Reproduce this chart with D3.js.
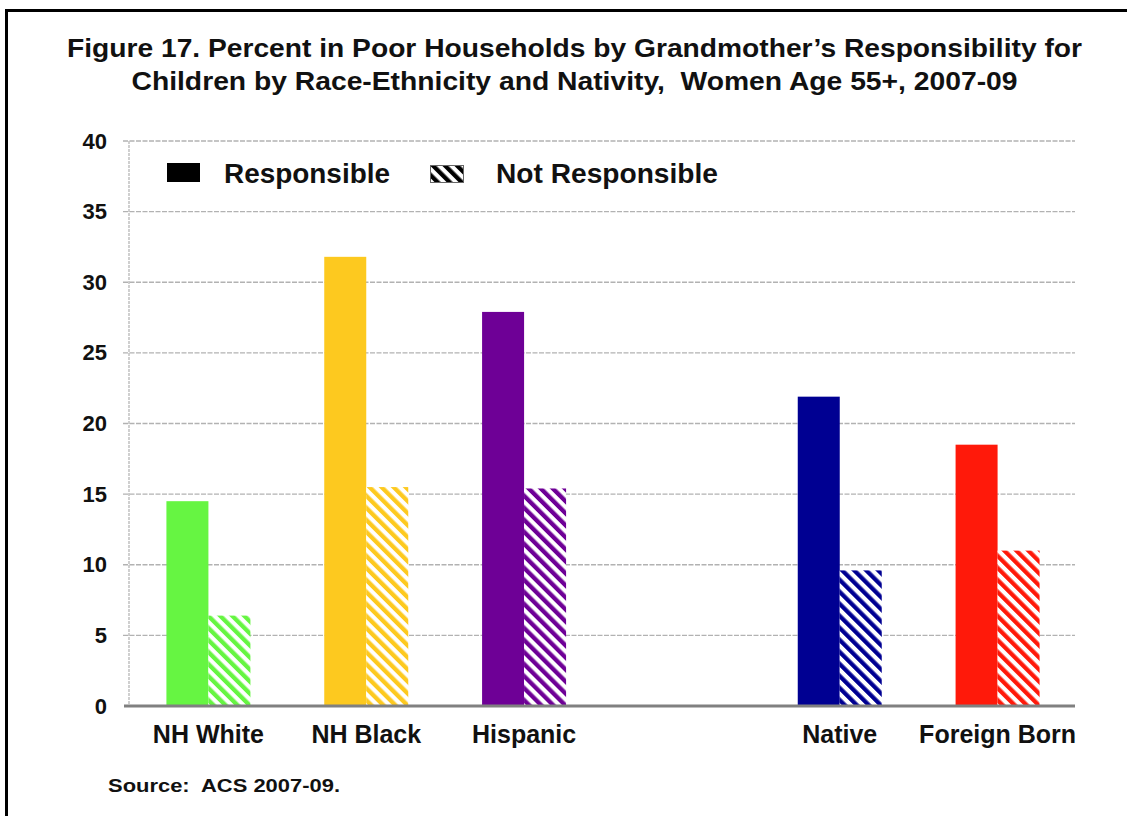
<!DOCTYPE html>
<html>
<head>
<meta charset="utf-8">
<script src="https://cdn.jsdelivr.net/npm/d3@7"></script>
<style>
  html, body { margin: 0; padding: 0; background: #fff; }
  svg { display: block; }
  text { font-family: "Liberation Sans", Arial, sans-serif; font-weight: bold; fill: #111; }
</style>
</head>
<body>
<svg id="chart" width="1127" height="816"></svg>
<script>
// Percent in poor households, women age 55+, 2007-09
const categories = ["NH White", "NH Black", "Hispanic", "Native", "Foreign Born"];
const responsible = [14.5, 31.8, 27.9, 21.9, 18.5];
const notResponsible = [6.4, 15.5, 15.4, 9.6, 11.0];
const barColors = ["#66f542", "#fdc91f", "#6e0096", "#000092", "#ff190a"];
const seriesNames = ["Responsible", "Not Responsible"];
const yTicks = [0, 5, 10, 15, 20, 25, 30, 35, 40];
const titleLines = [
  "Figure 17. Percent in Poor Households by Grandmother\u2019s Responsibility for",
  "Children by Race-Ethnicity and Nativity,  Women Age 55+, 2007-09"
];
const sourceNote = "Source:  ACS 2007-09.";

const svg = d3.select("#chart");
const defs = svg.append("defs");

// frame around the figure
svg.append("rect")
  .attr("x", 6.5).attr("y", 10.5)
  .attr("width", 1140).attr("height", 830)
  .attr("fill", "none").attr("stroke", "#000").attr("stroke-width", 3);

// title
svg.append("g").selectAll("text")
  .data(titleLines)
  .join("text")
  .attr("x", 574.5)
  .attr("y", (d, i) => 57 + i * 33)
  .attr("text-anchor", "middle")
  .attr("font-size", 25)
  .attr("textLength", (d, i) => i === 0 ? 1015 : 886)
  .attr("lengthAdjust", "spacingAndGlyphs")
  .style("white-space", "pre")
  .text(d => d);

// scales: the race-ethnicity and nativity groups are separated by an empty slot
const GAP = "\u00a0";
const slots = categories.slice(0, 3).concat([GAP], categories.slice(3));
const margin = { left: 128, right: 1075, top: 141, bottom: 706 };

const x = d3.scaleBand().domain(slots).range([margin.left + 1.5, margin.right + 1.5]).padding(0);
const xInner = d3.scaleBand().domain(seriesNames).range([0, 84]).padding(0);
const y = d3.scaleLinear().domain([0, 40]).range([margin.bottom, margin.top]);

// hatch patterns, one per bar colour
function hatch(id, color) {
  const p = defs.append("pattern")
    .attr("id", id)
    .attr("patternUnits", "userSpaceOnUse")
    .attr("width", 8.5).attr("height", 8.5)
    .attr("patternTransform", "rotate(-45)");
  p.append("rect").attr("width", 8.5).attr("height", 8.5).attr("fill", "#fff");
  p.append("rect").attr("width", 4.3).attr("height", 8.5).attr("fill", color);
}
barColors.forEach((c, i) => hatch("hatch" + i, c));
hatch("hatchLegend", "#000");

// gridlines
svg.append("g").selectAll("line")
  .data(yTicks.filter(t => t > 0))
  .join("line")
  .attr("x1", margin.left - 5).attr("x2", margin.right)
  .attr("y1", d => y(d)).attr("y2", d => y(d))
  .attr("stroke", "#b2b2b2").attr("stroke-width", 1.3)
  .attr("stroke-dasharray", "5,1.5");

// vertical axis line
svg.append("line")
  .attr("x1", margin.left + 1).attr("x2", margin.left + 1)
  .attr("y1", y(40)).attr("y2", y(0))
  .attr("stroke", "#bcbcbc").attr("stroke-width", 1.4)
  .attr("stroke-dasharray", "3,1");

// y axis labels
const yAxis = svg.append("g")
  .attr("transform", `translate(${margin.left},0)`)
  .call(d3.axisLeft(y).tickValues(yTicks).tickSize(0).tickPadding(21));
yAxis.select(".domain").remove();
yAxis.selectAll(".tick line").remove();
yAxis.selectAll(".tick text")
  .attr("font-size", 22)
  .attr("font-family", "'Liberation Sans', Arial, sans-serif")
  .attr("font-weight", "bold")
  .attr("fill", "#111");

// bars
const rows = categories.map((c, i) => ({
  cat: c, idx: i, values: [responsible[i], notResponsible[i]]
}));
const groups = svg.append("g").selectAll("g")
  .data(rows)
  .join("g")
  .attr("transform", d => `translate(${x(d.cat) + x.bandwidth() / 2 - 42},0)`);

groups.selectAll("rect")
  .data(d => d.values.map((v, j) => ({ v, j, idx: d.idx })))
  .join("rect")
  .attr("x", d => xInner(seriesNames[d.j]))
  .attr("width", xInner.bandwidth())
  .attr("y", d => y(d.v))
  .attr("height", d => y(0) - y(d.v))
  .attr("fill", d => d.j === 0 ? barColors[d.idx] : `url(#hatch${d.idx})`);

// baseline
svg.append("line")
  .attr("x1", margin.left - 4).attr("x2", margin.right)
  .attr("y1", y(0)).attr("y2", y(0))
  .attr("stroke", "#808080").attr("stroke-width", 3);

// category labels
const xAxis = svg.append("g")
  .attr("transform", `translate(0,${y(0)})`)
  .call(d3.axisBottom(x).tickSize(0).tickPadding(19).tickFormat(d => d === GAP ? "" : d));
xAxis.select(".domain").remove();
xAxis.selectAll(".tick text")
  .attr("font-size", 25)
  .attr("font-family", "'Liberation Sans', Arial, sans-serif")
  .attr("font-weight", "bold")
  .attr("fill", "#111");

// legend
const legend = svg.append("g");
legend.append("rect")
  .attr("x", 167).attr("y", 163).attr("width", 33).attr("height", 19)
  .attr("fill", "#000");
legend.append("text")
  .attr("x", 224).attr("y", 183)
  .attr("font-size", 27)
  .attr("textLength", 166).attr("lengthAdjust", "spacingAndGlyphs")
  .text(seriesNames[0]);
legend.append("rect")
  .attr("x", 430.5).attr("y", 165.5).attr("width", 33).attr("height", 17)
  .attr("fill", "url(#hatchLegend)")
  .attr("stroke", "#666").attr("stroke-width", 1);
legend.append("text")
  .attr("x", 496).attr("y", 183)
  .attr("font-size", 27)
  .attr("textLength", 222).attr("lengthAdjust", "spacingAndGlyphs")
  .text(seriesNames[1]);

// source note
svg.append("text")
  .attr("x", 108).attr("y", 792)
  .attr("font-size", 19)
  .attr("textLength", 232).attr("lengthAdjust", "spacingAndGlyphs")
  .style("white-space", "pre")
  .text(sourceNote);
</script>
</body>
</html>
